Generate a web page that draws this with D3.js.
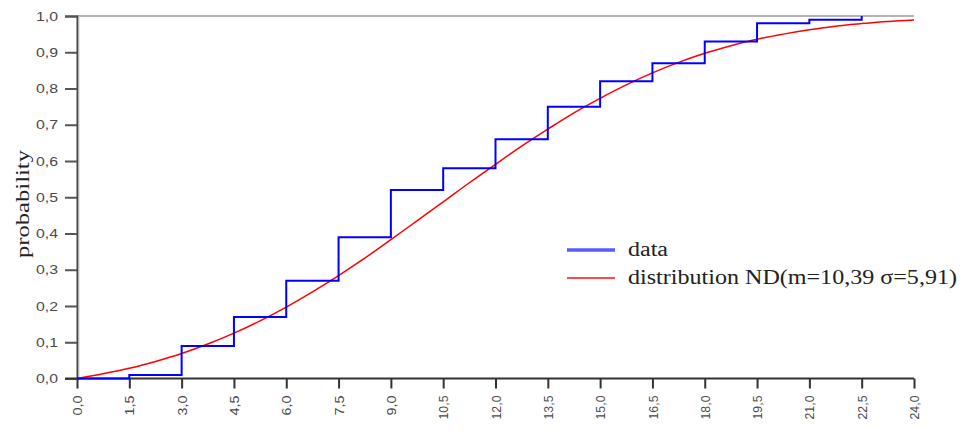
<!DOCTYPE html>
<html>
<head>
<meta charset="utf-8">
<script src="https://cdn.jsdelivr.net/npm/d3@7"></script>
<style>
  html, body { margin: 0; padding: 0; background: #fff; }
  svg { display: block; }
</style>
</head>
<body>
<svg id="chart" width="963" height="435"></svg>
<script>
// ---- data ----
const xTicks = [0, 1.5, 3, 4.5, 6, 7.5, 9, 10.5, 12, 13.5, 15, 16.5, 18, 19.5, 21, 22.5, 24];
const yTicks = [0, 0.1, 0.2, 0.3, 0.4, 0.5, 0.6, 0.7, 0.8, 0.9, 1.0];

// empirical step function (value reached at each x)
const stepX = [0, 1.5, 3, 4.5, 6, 7.5, 9, 10.5, 12, 13.5, 15, 16.5, 18, 19.5, 21, 22.5];
const stepY = [0, 0.01, 0.09, 0.17, 0.27, 0.39, 0.52, 0.58, 0.66, 0.75, 0.82, 0.87, 0.93, 0.98, 0.99, 1.0];

// fitted distribution curve, read at half-tick spacing
const curveX = [0, 0.75, 1.5, 2.25, 3, 3.75, 4.5, 5.25, 6, 6.75, 7.5, 8.25, 9, 9.75, 10.5, 11.25, 12,
                12.75, 13.5, 14.25, 15, 15.75, 16.5, 17.25, 18, 18.75, 19.5, 20.25, 21, 21.75, 22.5, 23.25, 24];
const curveY = [0, 0.013, 0.028, 0.047, 0.069, 0.095, 0.125, 0.159, 0.197, 0.239, 0.284, 0.332, 0.383,
                0.435, 0.487, 0.540, 0.591, 0.641, 0.688, 0.733, 0.773, 0.810, 0.843, 0.872, 0.897,
                0.918, 0.936, 0.950, 0.962, 0.972, 0.979, 0.985, 0.989];

const legendLabels = ["data", "distribution ND(m=10,39 σ=5,91)"];
const yTitle = "probability";

const fmt = v => d3.format(".1f")(v).replace(".", ",");

// ---- drawing ----
const svg = d3.select("#chart");
const x = d3.scaleLinear().domain([0, 24]).range([77, 914]);
const y = d3.scaleLinear().domain([0, 1]).range([378.5, 16]);

// top border line
svg.append("line")
  .attr("x1", x(0)).attr("x2", x(24))
  .attr("y1", y(1)).attr("y2", y(1))
  .attr("stroke", "#9a9a9a").attr("stroke-width", 1.5);

// y axis
const yAxis = svg.append("g").attr("transform", `translate(${x(0)},0)`)
  .call(d3.axisLeft(y).tickValues(yTicks).tickFormat(fmt).tickSize(12).tickPadding(7));
yAxis.select(".domain").attr("stroke", "#444").attr("stroke-width", 2);
yAxis.selectAll(".tick line").attr("stroke", "#555").attr("stroke-width", 2);
yAxis.selectAll(".tick text")
  .attr("fill", "#4a4a4a")
  .style("font-family", "'Liberation Sans', Arial, sans-serif")
  .style("font-size", "13px")
  .attr("textLength", 22).attr("lengthAdjust", "spacingAndGlyphs");
// light shadow next to y axis
svg.append("line")
  .attr("x1", x(0) + 2).attr("x2", x(0) + 2)
  .attr("y1", y(1)).attr("y2", y(0))
  .attr("stroke", "#c8c8c8").attr("stroke-width", 1);

// x axis
const xAxis = svg.append("g").attr("transform", `translate(0,${y(0)})`)
  .call(d3.axisBottom(x).tickValues(xTicks).tickFormat(fmt).tickSizeInner(10).tickSizeOuter(0));
xAxis.select(".domain").attr("stroke", "#333").attr("stroke-width", 2)
  .attr("d", `M${x(0) - 12},0H${x(24)}`);
xAxis.selectAll(".tick line").attr("stroke", "#333").attr("stroke-width", 2);
xAxis.selectAll(".tick text")
  .attr("fill", "#4a4a4a")
  .style("font-family", "'Liberation Sans', Arial, sans-serif")
  .style("font-size", "13px")
  .attr("text-anchor", "end")
  .attr("dy", "0.35em")
  .attr("transform", "translate(0,17) rotate(-90)")
  .attr("x", 0).attr("y", 0)
  .attr("textLength", d => fmt(d).length > 3 ? 24 : 20)
  .attr("lengthAdjust", "spacingAndGlyphs");

// y axis title
svg.append("text")
  .attr("transform", `translate(29,${204}) rotate(-90)`)
  .attr("text-anchor", "middle")
  .attr("fill", "#222")
  .style("font-family", "'Liberation Serif', 'Times New Roman', serif")
  .style("font-size", "19px")
  .attr("textLength", 108).attr("lengthAdjust", "spacingAndGlyphs")
  .text(yTitle);

// fitted curve
const curvePts = curveX.map((v, i) => [v, curveY[i]]);
svg.append("path")
  .datum(curvePts)
  .attr("fill", "none")
  .attr("stroke", "#ff0000")
  .attr("stroke-width", 1.5)
  .attr("d", d3.line().x(d => x(d[0])).y(d => y(d[1])).curve(d3.curveMonotoneX));

// empirical step line
const stepPts = stepX.map((v, i) => [v, stepY[i]]);
svg.append("path")
  .datum(stepPts)
  .attr("fill", "none")
  .attr("stroke", "#0000ff")
  .attr("stroke-width", 2)
  .attr("d", d3.line().x(d => x(d[0])).y(d => y(d[1])).curve(d3.curveStepAfter));

// legend
const legend = svg.append("g");
const legColors = ["#5a5aff", "#ff4a4a"];
const legWidths = [3.5, 2];
const legY = [250, 278];
legendLabels.forEach((lab, i) => {
  legend.append("line")
    .attr("x1", 567).attr("x2", 615)
    .attr("y1", legY[i]).attr("y2", legY[i])
    .attr("stroke", legColors[i]).attr("stroke-width", legWidths[i]);
  legend.append("text")
    .attr("x", 628).attr("y", legY[i] + 6)
    .attr("fill", "#222")
    .style("font-family", "'Liberation Serif', 'Times New Roman', serif")
    .style("font-size", "20px")
    .attr("textLength", i === 0 ? 40 : 329).attr("lengthAdjust", "spacingAndGlyphs")
    .text(lab);
});
</script>
</body>
</html>
